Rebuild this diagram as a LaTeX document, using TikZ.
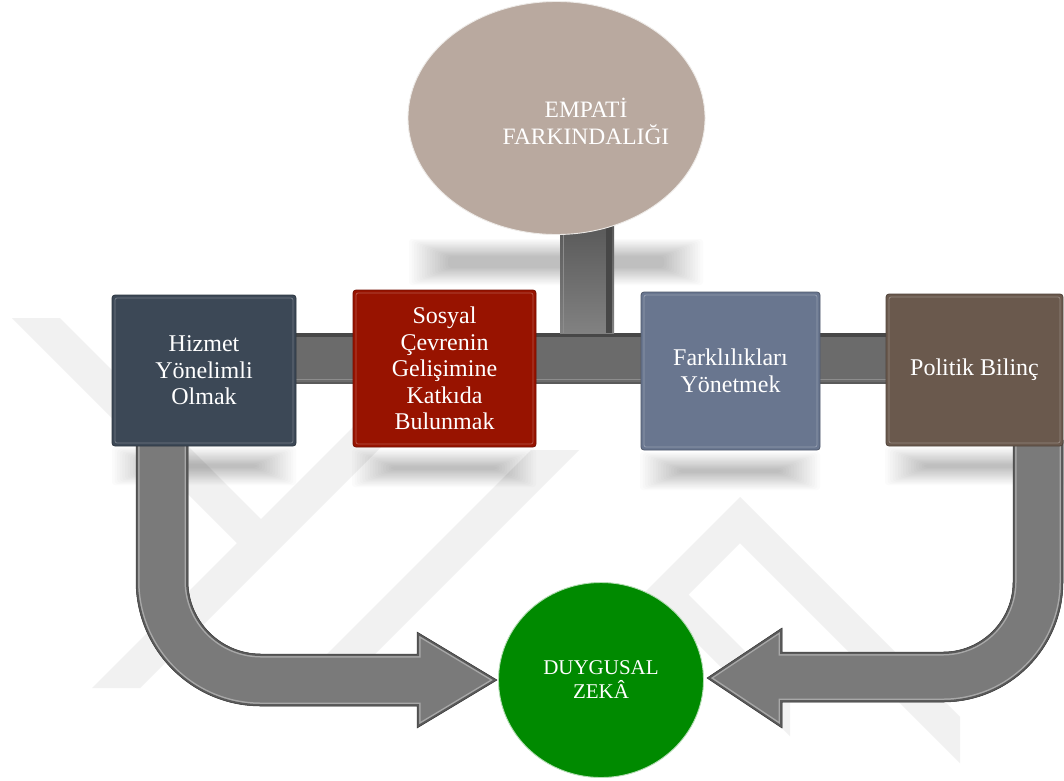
\documentclass[tikz,border=0pt]{standalone}
\usepackage{fontspec}
\setmainfont{Liberation Serif}
\usetikzlibrary{shapes.geometric,backgrounds,calc}

\definecolor{slate}{HTML}{3C4856}
\definecolor{brick}{HTML}{981300}
\definecolor{steel}{HTML}{69768F}
\definecolor{umber}{HTML}{6A594D}
\definecolor{taupe}{HTML}{B9A99F}
\definecolor{leaf}{HTML}{008A00}
\definecolor{barfill}{HTML}{6B6B6B}
\definecolor{bardark}{HTML}{474747}
\definecolor{barlight}{HTML}{8C8C8C}
\definecolor{arrowfill}{HTML}{7A7A7A}
\definecolor{arrowdark}{HTML}{5A5A5A}
\definecolor{arrowlight}{HTML}{A8A8A8}
\definecolor{emblemgrey}{HTML}{F1F1F1}

% soft shadow: centre x, centre y, half width, half height
\newcommand\softshadow[4]{%
  \foreach \k in {0,...,15}{%
    \fill[black,opacity=.015,rounded corners=3pt]
      ({#1-#3-12+2.6*\k},{#2-#4-9+1.15*\k}) rectangle ({#1+#3+12-2.6*\k},{#2+#4+9-1.15*\k});
  }%
}

\begin{document}
\begin{tikzpicture}[x=1pt,y=-1pt,
  card/.style={rectangle, rounded corners=3pt, draw=#1!75!black, line width=.8pt,
    fill=#1, text=white, align=center, inner sep=0pt,
    font=\fontsize{24}{26.5}\selectfont,
    path picture={\draw[white,opacity=.28,line width=.8pt,rounded corners=2pt]
      ([shift={(3pt,-3pt)}]path picture bounding box.north west) rectangle
      ([shift={(-3pt,3pt)}]path picture bounding box.south east);}},
  bubble/.style={ellipse, inner sep=0pt, text=white, align=center, line width=.9pt}
]
\path[use as bounding box] (0,0) rectangle (1064,780);

% the five ideas and the centre
\node[card=slate, minimum width=184pt, minimum height=151pt] (hizmet) at (204,370.5)
  {Hizmet\\Yönelimli\\Olmak};
\node[card=brick, minimum width=183pt, minimum height=157pt] (sosyal) at (444.5,368.5)
  {Sosyal\\Çevrenin\\Gelişimine\\Katkıda\\Bulunmak};
\node[card=steel, minimum width=179pt, minimum height=158pt] (fark) at (730.5,371)
  {Farklılıkları\\Yönetmek};
\node[card=umber, minimum width=177pt, minimum height=152pt] (politik) at (974.5,370)
  {Politik Bilinç};
\node[bubble, fill=taupe, draw=white!75!taupe, minimum width=297pt,
  minimum height=233pt] (empati) at (556.5,118) {};
\node[text=white, align=center, font=\fontsize{23.5}{27}\selectfont, inner sep=0pt]
  (empatitext) at (586,121) {EMPATİ\\FARKINDALIĞI};
\node[bubble, fill=leaf, draw=white!70!leaf, minimum width=205pt, minimum height=195pt,
  font=\fontsize{21}{24}\selectfont] (zeka) at (601,680)
  {DUYGUSAL\\ZEKÂ};

\begin{scope}[on background layer]
  \fill[white] (0,0) rectangle (1064,780);

  % faint emblem in the back
  \fill[emblemgrey] (12,318) -- (60,318) -- (284,542) -- (260,566) -- cycle;
  \fill[emblemgrey] (92,688) -- (140,688) -- (510,318) -- (462,318) -- cycle;
  \fill[emblemgrey] (281,700) -- (329,700) -- (579,450) -- (531,450) -- cycle;
  \fill[emblemgrey] (740,497) -- (960,717) -- (960,763) -- (740,543) -- (560,723) -- (560,677) -- cycle;
  \fill[emblemgrey] (668,574) -- (790,696) -- (790,736) -- (668,614) -- (560,722) -- (560,682) -- cycle;

  % shadows under the shapes
  \softshadow{556}{262}{135}{14}
  \softshadow{204}{466}{80}{10}
  \softshadow{444}{468}{80}{10}
  \softshadow{730}{471}{78}{10}
  \softshadow{975}{466}{78}{10}

  % horizontal rail joining the four boxes
  \coordinate (railtop) at (0,333);
  \coordinate (railbot) at (0,384);
  \fill[barfill] (hizmet.center |- railtop) rectangle (politik.center |- railbot);
  \fill[bardark] (hizmet.center |- railtop) rectangle ($(politik.center |- railtop)+(0,4)$);
  \draw[barlight,line width=.8pt] ($(hizmet.center |- railbot)+(0,-5)$) -- ($(politik.center |- railbot)+(0,-5)$);
  \fill[arrowdark] ($(hizmet.center |- railbot)+(0,-2)$) rectangle (politik.center |- railbot);

  % stem from the ellipse down to the rail
  \coordinate (stemL) at (560,0);
  \coordinate (stemR) at (614,0);
  \shade[top color=bardark!90!white, bottom color=barfill!85!white] ($(stemL |- empati.south)+(0,-10)$) rectangle (stemR |- railtop);
  \fill[bardark] ($(stemR |- empati.south)+(-8,-10)$) rectangle ($(stemR |- railtop)+(-2,0)$);
  \draw[barlight,line width=.7pt] ($(stemL |- empati.south)+(3,0)$) -- ($(stemL |- railtop)+(3,0)$);

  % curved arrows into the centre
  \def\leftarrowpath{(136,440) -- (136,581) arc[start angle=180,end angle=90,radius=125]
    -- (417,706) -- (417,728) -- (497,680) -- (417,632) -- (417,654) -- (261,654)
    arc[start angle=90,end angle=180,radius=73] -- (188,440) -- cycle}
  \def\rightarrowpath{(1063,440) -- (1063,582) arc[start angle=0,end angle=90,radius=120]
    -- (782,702) -- (782,728) -- (707,678) -- (782,628) -- (782,652) -- (943,652)
    arc[start angle=90,end angle=0,radius=70] -- (1013,440) -- cycle}
  \foreach \p in {\leftarrowpath,\rightarrowpath}{
    \fill[arrowfill] \p;
    \begin{scope}
      \clip \p;
      \draw[arrowlight,line width=7pt] \p;
      \draw[arrowdark,line width=4pt] \p;
    \end{scope}
    \draw[arrowdark!70!black,line width=.5pt] \p;
  }
\end{scope}
\end{tikzpicture}
\end{document}
